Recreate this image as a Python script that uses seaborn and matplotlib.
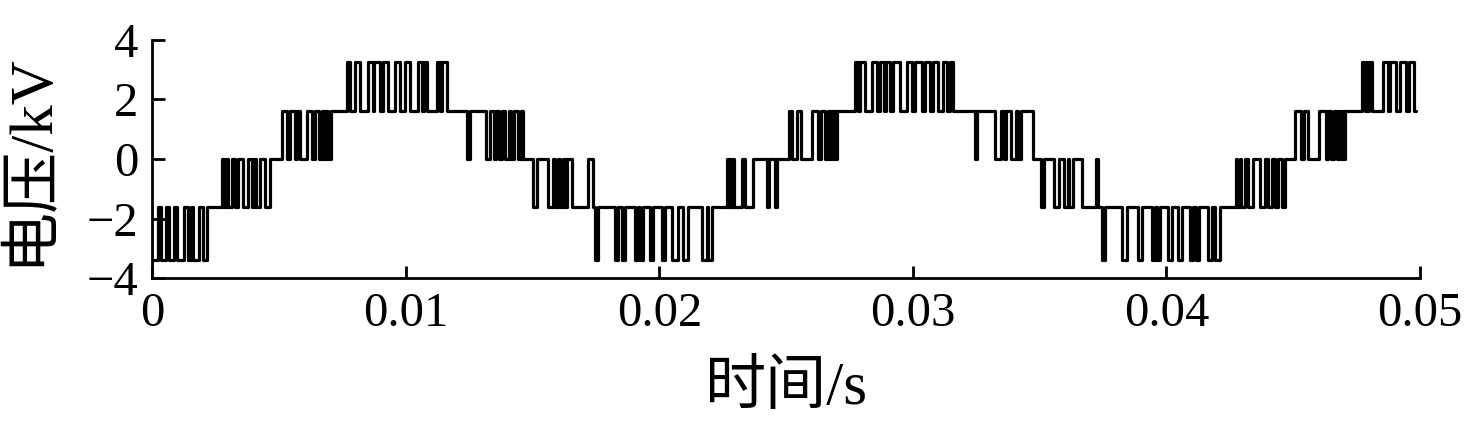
import numpy as np
import pandas as pd
import matplotlib
matplotlib.use("Agg")
import matplotlib.pyplot as plt
import seaborn as sns

# base level of each stretch of the waveform (kV), start times in ms
seg_start_ms = [0.0, 2.76, 7.06, 14.63, 16.56, 22.67, 27.01, 34.74, 36.67, 42.74, 47.04]
seg_level = [-1.6, 0, 1.6, 0, -1.6, 0, 1.6, 0, -1.6, 0, 1.6]
end_ms = 49.84

top_kv = 3.25
bottom_kv = -3.4

# switching pulses (on, off) in ms, grouped by the level they jump to
pulses_top = [(7.69, 7.81), (8.00, 8.20), (8.52, 8.71), (8.77, 8.99), (9.11, 9.31),
              (9.58, 9.78), (9.98, 10.17), (10.49, 10.65), (10.71, 10.84), (11.24, 11.36),
              (11.44, 11.63),
              (27.72, 27.84), (27.92, 28.11), (28.39, 28.59), (28.71, 28.86), (28.94, 29.10),
              (29.22, 29.50), (29.77, 29.97), (30.09, 30.36), (30.48, 30.68), (30.80, 30.99),
              (31.19, 31.35), (31.47, 31.59),
              (47.71, 47.83), (47.90, 47.96), (48.00, 48.09), (48.52, 48.74), (48.82, 49.05),
              (49.21, 49.45), (49.57, 49.76)]
pulses_pos = [(5.13, 5.32), (5.44, 5.64), (5.72, 5.84), (6.11, 6.31), (6.43, 6.59),
              (6.70, 6.78), (6.86, 6.94),
              (25.12, 25.24), (25.43, 25.59), (26.03, 26.26), (26.38, 26.54), (26.66, 26.74),
              (26.77, 26.85), (26.89, 26.97),
              (45.07, 45.31), (45.43, 45.58), (46.02, 46.29), (46.37, 46.49), (46.61, 46.73),
              (46.81, 46.89), (46.92, 47.00)]
pulses_zero = [(12.42, 12.52), (13.17, 13.33), (13.49, 13.56), (13.68, 13.80), (13.92, 14.08),
               (14.16, 14.27), (14.43, 14.55), (17.19, 17.39),
               (32.45, 32.53), (33.24, 33.48), (33.60, 33.66), (33.87, 34.07), (34.15, 34.27),
               (37.22, 37.30)]
pulses_neg = [(2.84, 2.92), (2.99, 3.15), (3.27, 3.39), (3.59, 3.79), (3.94, 4.02),
              (4.10, 4.26), (4.46, 4.65),
              (15.02, 15.18), (15.62, 15.81), (15.89, 16.02), (16.09, 16.21), (16.29, 16.36),
              (22.71, 22.79), (22.83, 22.91), (22.95, 23.26), (23.38, 23.70), (24.25, 24.33),
              (24.57, 24.64),
              (35.06, 35.17), (35.57, 35.76), (35.96, 36.12), (36.16, 36.32),
              (42.78, 42.90), (42.94, 43.10), (43.22, 43.41), (43.69, 43.89), (44.01, 44.16),
              (44.28, 44.40), (44.56, 44.68)]
pulses_bottom = [(0.0, 0.24), (0.35, 0.55), (0.67, 0.87), (0.99, 1.26), (1.42, 1.54),
                 (1.62, 1.85), (2.01, 2.17),
                 (17.47, 17.59), (18.26, 18.38), (18.53, 18.65), (19.05, 19.16), (19.24, 19.36),
                 (19.64, 19.75), (20.11, 20.23), (20.50, 20.74), (20.94, 21.14), (21.69, 21.88),
                 (21.92, 22.08),
                 (37.46, 37.58), (38.25, 38.45), (38.88, 39.04), (39.43, 39.55), (39.62, 39.75),
                 (40.06, 40.22), (40.46, 40.62), (40.93, 41.05), (41.17, 41.29), (41.64, 41.80),
                 (41.92, 42.11)]

xticks = [0, 0.01, 0.02, 0.03, 0.04, 0.05]
yticks = [-4, -2, 0, 2, 4]

groups = [(pulses_top, top_kv), (pulses_pos, 1.6), (pulses_zero, 0.0),
          (pulses_neg, -1.6), (pulses_bottom, bottom_kv)]

# collect all switching instants and build the step trace
edges = set(seg_start_ms + [end_ms])
for plist, _ in groups:
    for a, b in plist:
        edges.add(a)
        edges.add(b)
edges = sorted(edges)

tt, vv = [], []
for a, b in zip(edges[:-1], edges[1:]):
    mid = 0.5 * (a + b)
    idx = np.searchsorted(seg_start_ms, mid, side="right") - 1
    lvl = seg_level[idx]
    for plist, plvl in groups:
        for on, off in plist:
            if on <= mid < off:
                lvl = plvl
    tt += [a, b]
    vv += [lvl, lvl]

df = pd.DataFrame({"t": np.array(tt) / 1000.0, "v": vv})

sns.set_theme(style="ticks")
plt.rcParams["font.family"] = ["Liberation Serif", "Noto Sans CJK SC"]
plt.rcParams["axes.unicode_minus"] = True
plt.rcParams["text.color"] = "black"
plt.rcParams["axes.labelcolor"] = "black"

fig, ax = plt.subplots(figsize=(14.69, 4.24), dpi=100)
fig.subplots_adjust(left=0.1035, right=0.9667, bottom=0.344, top=0.906)

sns.lineplot(data=df, x="t", y="v", estimator=None, sort=False,
             color="black", linewidth=2.3, ax=ax)

ax.set_xlim(0, 0.05)
ax.set_ylim(-4, 4)
ax.set_xticks(xticks)
ax.set_xticklabels(["%g" % x for x in xticks])
ax.set_yticks(yticks)
ax.tick_params(direction="in", length=9, width=2, labelsize=35, pad=10, colors="black")
for s in ["left", "bottom"]:
    ax.spines[s].set_linewidth(2)
    ax.spines[s].set_color("black")
sns.despine(ax=ax)

ax.set_xlabel("时间/s", fontsize=44, labelpad=18)
ax.set_ylabel("电压/kV", fontsize=44, labelpad=20)

fig.savefig("out.png", dpi=100)
